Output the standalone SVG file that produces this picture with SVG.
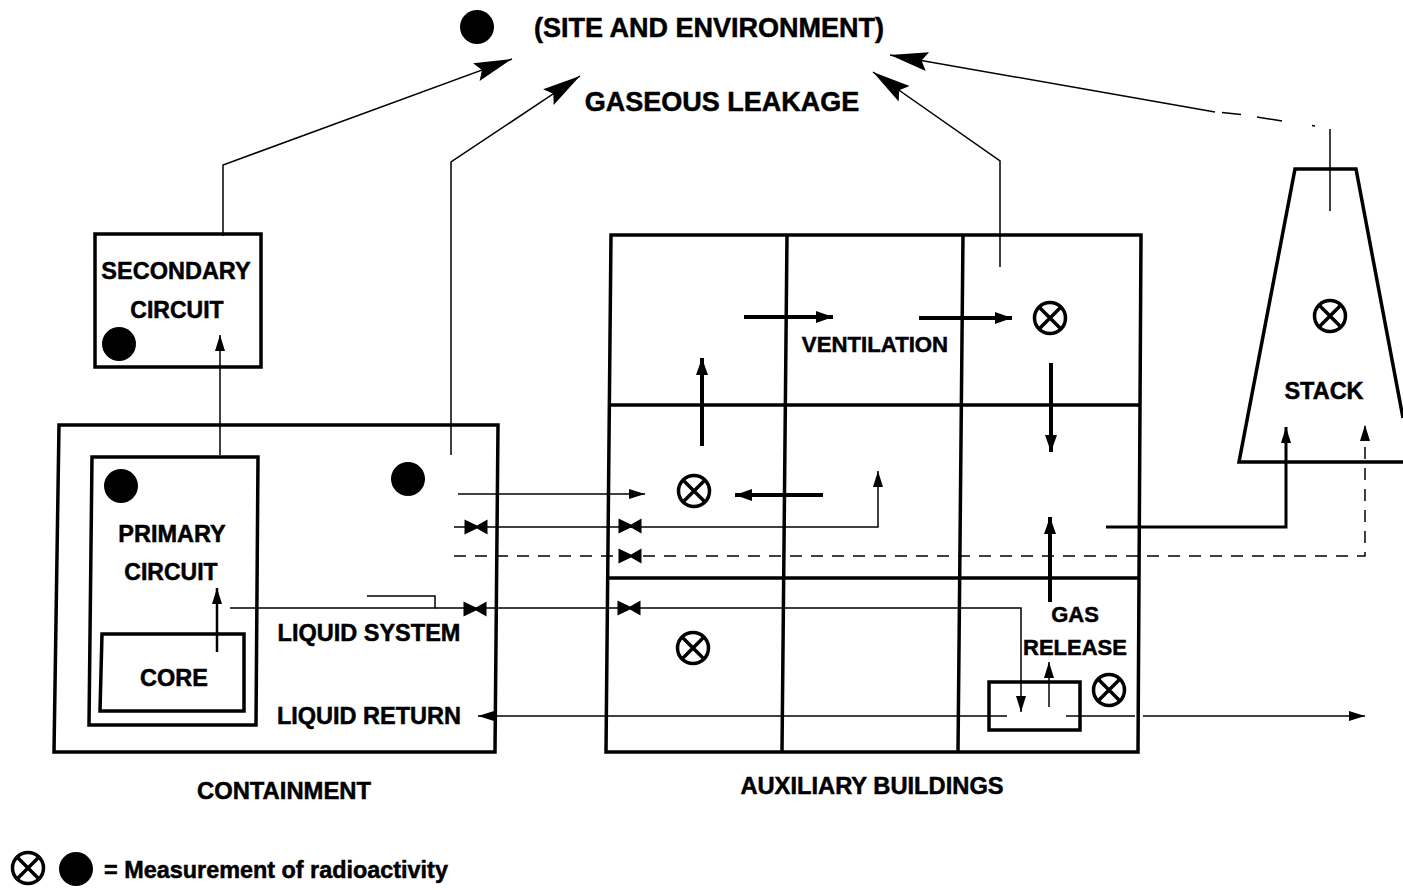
<svg xmlns="http://www.w3.org/2000/svg" width="1403" height="890" viewBox="0 0 1403 890">
<defs>
<marker id="a" markerUnits="userSpaceOnUse" markerWidth="42" markerHeight="26" refX="38" refY="13" orient="auto"><path d="M0 3.500L38 13L0 22.500L6 13Z" fill="#000"/></marker>
<marker id="m" markerUnits="userSpaceOnUse" markerWidth="20" markerHeight="14" refX="16" refY="7" orient="auto"><path d="M0 2L16 7L0 12Z" fill="#000"/></marker>
<marker id="n" markerUnits="userSpaceOnUse" markerWidth="20" markerHeight="16" refX="17" refY="8" orient="auto"><path d="M0 2L17 8L0 14Z" fill="#000"/></marker>
<g id="x"><circle r="15.500" fill="#fff" stroke="#000" stroke-width="3.500"/><path d="M-11-11L11 11M-11 11L11-11" stroke="#000" stroke-width="3.500"/></g>
<path id="v" d="M-11.500-7.500L1 -1.500L11.500-7.500V7.500L1 1.500L-11.500 7.500Z" fill="#000"/>
</defs>
<style>
text{font-family:"Liberation Sans",Arial,sans-serif;font-weight:700;font-size:23.500px;fill:#000;stroke:#000;stroke-width:.5;text-anchor:middle}
.b{fill:none;stroke:#000;stroke-width:3.500}
.t{fill:none;stroke:#000;stroke-width:1.500}
.h{fill:none;stroke:#000;stroke-width:4}
.d{stroke-dasharray:12 9}
</style>
<g id="connectors">
<path class="t" d="M223 236V165L512 59" marker-end="url(#a)"/>
<path class="t" d="M451 455V162L580 76" marker-end="url(#a)"/>
<path class="t" d="M1000 267V161L873 72" marker-end="url(#a)"/>
<path class="t" d="M1330 129V211"/>
<path class="t" d="M1215 112L890 55" marker-end="url(#a)"/>
<path class="t" d="M1222 112.500L1241 114.500M1257 117L1282 121M1312 125.500L1315 126"/>
<path class="t" d="M220 455V335" marker-end="url(#m)"/>
<path class="h" style="stroke-width:2.500" d="M217 652V588" marker-end="url(#m)"/>
<path class="t" d="M458 494H645" marker-end="url(#m)"/>
<path class="t" d="M454 527H878V471" marker-end="url(#m)"/>
<path class="t d" d="M454 556H1365V425" marker-end="url(#m)"/>
<path class="t" d="M230 608H435V596H367"/>
<path class="t" d="M435 608H1021V712" marker-end="url(#m)"/>
<path class="t" d="M1049 707V662" marker-end="url(#m)"/>
<path class="t" d="M1007 716H478" marker-end="url(#m)"/>
<path class="t" d="M1066 716H1135"/>
<path class="t" d="M1143 716H1365" marker-end="url(#m)"/>
<path class="h" style="stroke-width:3" d="M1106 527H1286V427" marker-end="url(#m)"/>
<path class="h" d="M702 446V358" marker-end="url(#n)"/>
<path class="h" d="M744 317H833" marker-end="url(#n)"/>
<path class="h" d="M919 318H1012" marker-end="url(#n)"/>
<path class="h" d="M1051 363V452" marker-end="url(#n)"/>
<path class="h" d="M823 495H735" marker-end="url(#n)"/>
<path class="h" d="M1050 602V517" marker-end="url(#n)"/>
<use href="#v" x="476" y="527"/><use href="#v" x="630" y="526"/><use href="#v" x="630" y="556"/><use href="#v" x="475" y="609"/><use href="#v" x="629" y="608"/>
</g>
<g id="site"><circle cx="477" cy="27" r="17" fill="#000"/><text x="709" y="37" style="font-size:27px">(SITE AND ENVIRONMENT)</text><text x="722" y="111" style="font-size:27px">GASEOUS LEAKAGE</text></g>
<g id="secondary-circuit"><rect class="b" x="95" y="234" width="166" height="133"/><text x="176" y="279">SECONDARY</text><text x="177" y="318" style="font-size:23px">CIRCUIT</text><circle cx="119" cy="344" r="17" fill="#000"/></g>
<g id="containment"><path class="b" d="M59 425H498L495 752H54Z"/><circle cx="408" cy="479" r="17" fill="#000"/><text x="369" y="641">LIQUID SYSTEM</text><text x="369" y="724">LIQUID RETURN</text><text x="284" y="799" style="font-size:23.800px">CONTAINMENT</text></g>
<g id="primary-circuit"><path class="b" d="M92 457H258L256 725H89Z"/><circle cx="121" cy="486" r="17" fill="#000"/><text x="172" y="542">PRIMARY</text><text x="171" y="580" style="font-size:23px">CIRCUIT</text></g>
<g id="core"><path class="b" d="M102 634H244V711H100Z"/><text x="174" y="686">CORE</text></g>
<g id="auxiliary-buildings"><path class="b" d="M611 235H1141L1138 752H606ZM787 235L782 752M963 235L958 752M610 405H1140M609 578H1139"/><use href="#x" x="1050" y="318"/><use href="#x" x="694" y="491"/><use href="#x" x="693" y="648"/><text x="875" y="352" style="font-size:22.200px">VENTILATION</text><text x="1075" y="622" style="font-size:22px">GAS</text><text x="1075" y="655" style="font-size:22px">RELEASE</text><text x="872" y="794" style="font-size:23.700px">AUXILIARY BUILDINGS</text></g>
<g id="gas-release-tank"><rect class="b" x="989" y="682" width="91" height="48" fill="none"/><use href="#x" x="1109" y="690"/></g>
<g id="stack"><path class="b" d="M1403 462H1239L1295 169H1356L1403 418"/><use href="#x" x="1330" y="316"/><text x="1324" y="399">STACK</text></g>
<g id="legend"><use href="#x" x="28" y="868"/><circle cx="76" cy="869" r="17" fill="#000"/><text x="276" y="878" style="font-size:23.400px">= Measurement of radioactivity</text></g>
</svg>
